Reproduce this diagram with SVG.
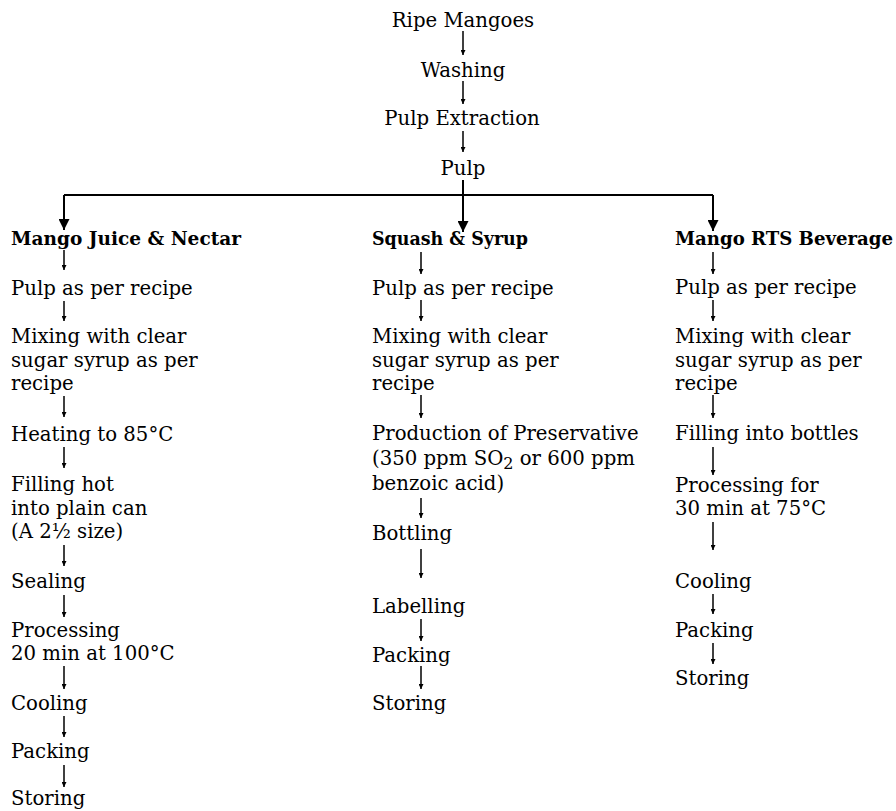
<svg xmlns="http://www.w3.org/2000/svg" width="896" height="811" viewBox="0 0 896 811">
<style>
text{font-family:"DejaVu Serif","Liberation Serif",serif;font-size:19.7px;fill:#000}
.h{font-weight:bold;font-size:18px}
.c{text-anchor:middle}
.s{stroke:#000;stroke-width:1.5;fill:none;marker-end:url(#sa)}
.b{stroke:#000;stroke-width:2;fill:none}
.bh{stroke:#000;stroke-width:2;fill:none;marker-end:url(#ba)}
</style>
<defs>
<marker id="sa" viewBox="0 0 10 10" refX="10" refY="5" markerWidth="9" markerHeight="5" markerUnits="userSpaceOnUse" orient="auto"><path d="M0,0 L10,5 L0,10 z" fill="#000"/></marker>
<marker id="ba" viewBox="0 0 10 10" refX="10" refY="5" markerWidth="28" markerHeight="11" markerUnits="userSpaceOnUse" orient="auto"><path d="M0,0 L10,5 L0,10 z" fill="#000"/></marker>
</defs>
<rect width="896" height="811" fill="#fff"/>
<g id="connectors">
<line class="s" x1="463" y1="31" x2="463" y2="55"/>
<line class="s" x1="463" y1="81" x2="463" y2="104"/>
<line class="s" x1="463" y1="131" x2="463" y2="152"/>
<path class="b" d="M64,195 H713"/>
<line class="bh" x1="463" y1="180" x2="463" y2="232"/>
<line class="bh" x1="64" y1="195" x2="64" y2="230"/>
<line class="bh" x1="713" y1="195" x2="713" y2="231"/>
<line class="s" x1="64" y1="250" x2="64" y2="270"/>
<line class="s" x1="64" y1="301" x2="64" y2="321"/>
<line class="s" x1="64" y1="396" x2="64" y2="417"/>
<line class="s" x1="64" y1="447" x2="64" y2="468"/>
<line class="s" x1="64" y1="545" x2="64" y2="566"/>
<line class="s" x1="64" y1="595" x2="64" y2="617"/>
<line class="s" x1="64" y1="666" x2="64" y2="689"/>
<line class="s" x1="64" y1="716" x2="64" y2="737"/>
<line class="s" x1="64" y1="765" x2="64" y2="787"/>
<line class="s" x1="421" y1="252" x2="421" y2="274"/>
<line class="s" x1="421" y1="300" x2="421" y2="321"/>
<line class="s" x1="421" y1="395" x2="421" y2="418"/>
<line class="s" x1="421" y1="498" x2="421" y2="518"/>
<line class="s" x1="421" y1="549" x2="421" y2="578"/>
<line class="s" x1="421" y1="619" x2="421" y2="641"/>
<line class="s" x1="421" y1="666" x2="421" y2="689"/>
<line class="s" x1="713" y1="252" x2="713" y2="274"/>
<line class="s" x1="713" y1="300" x2="713" y2="321"/>
<line class="s" x1="713" y1="395" x2="713" y2="418"/>
<line class="s" x1="713" y1="447" x2="713" y2="475"/>
<line class="s" x1="713" y1="522" x2="713" y2="550"/>
<line class="s" x1="713" y1="594" x2="713" y2="614"/>
<line class="s" x1="713" y1="643" x2="713" y2="664"/>
</g>
<g id="ripe-mangoes"><text class="c" x="463" y="27">Ripe Mangoes</text></g>
<g id="washing"><text class="c" x="463" y="77">Washing</text></g>
<g id="pulp-extraction"><text class="c" x="462" y="125">Pulp Extraction</text></g>
<g id="pulp"><text class="c" x="463" y="175">Pulp</text></g>

<g id="mango-juice-nectar"><text class="h" x="11" y="245" textLength="230" lengthAdjust="spacingAndGlyphs">Mango Juice &amp; Nectar</text></g>
<g id="l-pulp"><text x="11" y="295">Pulp as per recipe</text></g>
<g id="l-mixing"><text x="11" y="343">Mixing with clear</text><text x="11" y="367">sugar syrup as per</text><text x="11" y="390">recipe</text></g>
<g id="l-heating"><text x="11" y="441">Heating to 85°C</text></g>
<g id="l-filling"><text x="11" y="491">Filling hot</text><text x="11" y="515">into plain can</text><text x="11" y="538">(A 2½ size)</text></g>
<g id="l-sealing"><text x="11" y="588">Sealing</text></g>
<g id="l-processing"><text x="11" y="637">Processing</text><text x="11" y="660">20 min at 100°C</text></g>
<g id="l-cooling"><text x="11" y="710">Cooling</text></g>
<g id="l-packing"><text x="11" y="758">Packing</text></g>
<g id="l-storing"><text x="11" y="805">Storing</text></g>

<g id="squash-syrup"><text class="h" x="372" y="245" textLength="156" lengthAdjust="spacingAndGlyphs">Squash &amp; Syrup</text></g>
<g id="m-pulp"><text x="372" y="295">Pulp as per recipe</text></g>
<g id="m-mixing"><text x="372" y="343">Mixing with clear</text><text x="372" y="367">sugar syrup as per</text><text x="372" y="390">recipe</text></g>
<g id="m-preservative"><text x="372" y="440">Production of Preservative</text><text x="372" y="465">(350 ppm SO<tspan dy="4" font-size="16">2</tspan><tspan dy="-4"> or 600 ppm</tspan></text><text x="372" y="490">benzoic acid)</text></g>
<g id="m-bottling"><text x="372" y="540">Bottling</text></g>
<g id="m-labelling"><text x="372" y="613">Labelling</text></g>
<g id="m-packing"><text x="372" y="662">Packing</text></g>
<g id="m-storing"><text x="372" y="710">Storing</text></g>

<g id="mango-rts-beverage"><text class="h" x="675" y="245" textLength="218" lengthAdjust="spacingAndGlyphs">Mango RTS Beverage</text></g>
<g id="r-pulp"><text x="675" y="294">Pulp as per recipe</text></g>
<g id="r-mixing"><text x="675" y="343">Mixing with clear</text><text x="675" y="367">sugar syrup as per</text><text x="675" y="390">recipe</text></g>
<g id="r-filling"><text x="675" y="440">Filling into bottles</text></g>
<g id="r-processing"><text x="675" y="492">Processing for</text><text x="675" y="515">30 min at 75°C</text></g>
<g id="r-cooling"><text x="675" y="588">Cooling</text></g>
<g id="r-packing"><text x="675" y="637">Packing</text></g>
<g id="r-storing"><text x="675" y="685">Storing</text></g>
</svg>
